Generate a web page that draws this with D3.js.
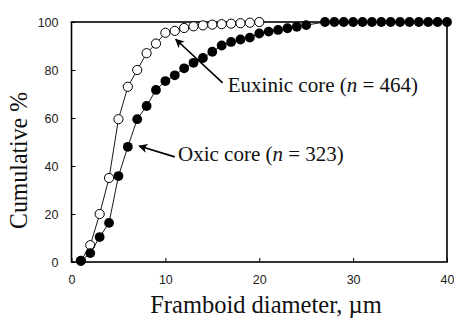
<!DOCTYPE html>
<html>
<head>
<meta charset="utf-8">
<script src="https://cdn.jsdelivr.net/npm/d3@7"></script>
<style>
  body { margin: 0; background: #fff; }
  svg { display: block; }
</style>
</head>
<body>
<script>
// Framboid diameter cumulative curves

// Data
const euxinicDiameter = [1,2,3,4,5,6,7,8,9,10,11,12,13,14,15,16,17,18,19,20];
const euxinicCumulative = [0.5,7,20,35,59.5,73,80,87,91,95.5,96.3,97.5,98.2,98.6,98.9,99.1,99.3,99.5,99.7,100];
const oxicDiameter = [1,2,3,4,5,6,7,8,9,10,11,12,13,14,15,16,17,18,19,20,21,22,23,24,25,27,28,29,30,31,32,33,34,35,36,37,38,39,40];
const oxicCumulative = [0.5,3.7,10.4,16.3,35.8,48,59.5,65,71.7,75.4,77.8,80.7,83,85,87.6,90.2,91.7,92.7,93.5,95.2,96,96.7,97.4,98,98.7,100,100,100,100,100,100,100,100,100,100,100,100,100,100];
const xTicks = [0,10,20,30,40];
const yTicks = [0,20,40,60,80,100];

const width = 454;
const height = 320;
const plot = {left:71.5, right:447, top:22, bottom:262};

const svg = d3.select('body')
  .append('svg')
  .attr('width', width)
  .attr('height', height);

// Scales
const x = d3.scaleLinear().domain([0,40]).range([plot.left, plot.right]);
const y = d3.scaleLinear().domain([0,100]).range([plot.bottom, plot.top]);

// Axes (ticks point inward)
svg.append('g')
  .attr('transform', `translate(0,${plot.bottom})`)
  .call(d3.axisBottom(x).tickValues(xTicks).tickSize(-4).tickPadding(13).tickSizeOuter(0))
  .call(g => g.select('.domain').remove())
  .call(g => g.selectAll('text').attr('font-family', 'Liberation Sans, Arial, sans-serif').attr('font-size', 12.5).attr('fill', '#222'));

svg.append('g')
  .attr('transform', `translate(${plot.left},0)`)
  .call(d3.axisLeft(y).tickValues(yTicks).tickSize(-4).tickPadding(13).tickSizeOuter(0))
  .call(g => g.select('.domain').remove())
  .call(g => g.selectAll('text').attr('font-family', 'Liberation Sans, Arial, sans-serif').attr('font-size', 12.5).attr('fill', '#222'));

// Frame
svg.append('rect')
  .attr('x', plot.left).attr('y', plot.top)
  .attr('width', plot.right - plot.left).attr('height', plot.bottom - plot.top)
  .attr('fill', 'none').attr('stroke', '#000').attr('stroke-width', 1.6);

const line = d3.line()
  .x(d => x(d[0]))
  .y(d => y(d[1]));

const euxinic = d3.zip(euxinicDiameter, euxinicCumulative);
const oxic = d3.zip(oxicDiameter, oxicCumulative);

// Euxinic core: open circles
svg.append('path').datum(euxinic)
  .attr('d', line).attr('fill', 'none').attr('stroke', '#000').attr('stroke-width', 0.9);
svg.append('g').selectAll('circle').data(euxinic).join('circle')
  .attr('cx', d => x(d[0])).attr('cy', d => y(d[1])).attr('r', 4.6)
  .attr('fill', '#fff').attr('stroke', '#000').attr('stroke-width', 1);

// Oxic core: filled circles
svg.append('path').datum(oxic)
  .attr('d', line).attr('fill', 'none').attr('stroke', '#000').attr('stroke-width', 0.9);
svg.append('g').selectAll('circle').data(oxic).join('circle')
  .attr('cx', d => x(d[0])).attr('cy', d => y(d[1])).attr('r', 4.9)
  .attr('fill', '#000');

// Arrow marker
svg.append('defs').append('marker')
  .attr('id', 'head')
  .attr('viewBox', '0 0 10 10')
  .attr('refX', 9).attr('refY', 5)
  .attr('markerWidth', 10).attr('markerHeight', 9)
  .attr('markerUnits', 'userSpaceOnUse')
  .attr('orient', 'auto')
  .append('path').attr('d', 'M0,0 L10,5 L0,10 L2.5,5 Z').attr('fill', '#000');

// Annotations
const notes = [
  {tail:[16.1,74.6], tip:[11.1,92.8], at:[16.65,71], label:'Euxinic core (', n:'464'},
  {tail:[11,43.8], tip:[7.2,48.3], at:[11.35,42.1], label:'Oxic core (', n:'323'}
];

notes.forEach(a => {
  svg.append('line')
    .attr('x1', x(a.tail[0])).attr('y1', y(a.tail[1]))
    .attr('x2', x(a.tip[0])).attr('y2', y(a.tip[1]))
    .attr('stroke', '#000').attr('stroke-width', 1.6)
    .attr('marker-end', 'url(#head)');
  const t = svg.append('text')
    .attr('x', x(a.at[0])).attr('y', y(a.at[1]))
    .attr('font-family', 'Liberation Serif, Times New Roman, serif')
    .attr('font-size', 21).attr('fill', '#111');
  t.append('tspan').text(a.label);
  t.append('tspan').attr('font-style', 'italic').text('n');
  t.append('tspan').text(' = ' + a.n + ')');
});

// Axis titles
svg.append('text')
  .attr('x', 266).attr('y', 313)
  .attr('text-anchor', 'middle')
  .attr('font-family', 'Liberation Serif, Times New Roman, serif')
  .attr('font-size', 24.5).attr('fill', '#111')
  .text('Framboid diameter, µm');

svg.append('text')
  .attr('transform', 'translate(27,160.5) rotate(-90)')
  .attr('text-anchor', 'middle')
  .attr('font-family', 'Liberation Serif, Times New Roman, serif')
  .attr('font-size', 25).attr('fill', '#111')
  .attr('textLength', 137).attr('lengthAdjust', 'spacingAndGlyphs')
  .text('Cumulative %');
</script>
</body>
</html>
